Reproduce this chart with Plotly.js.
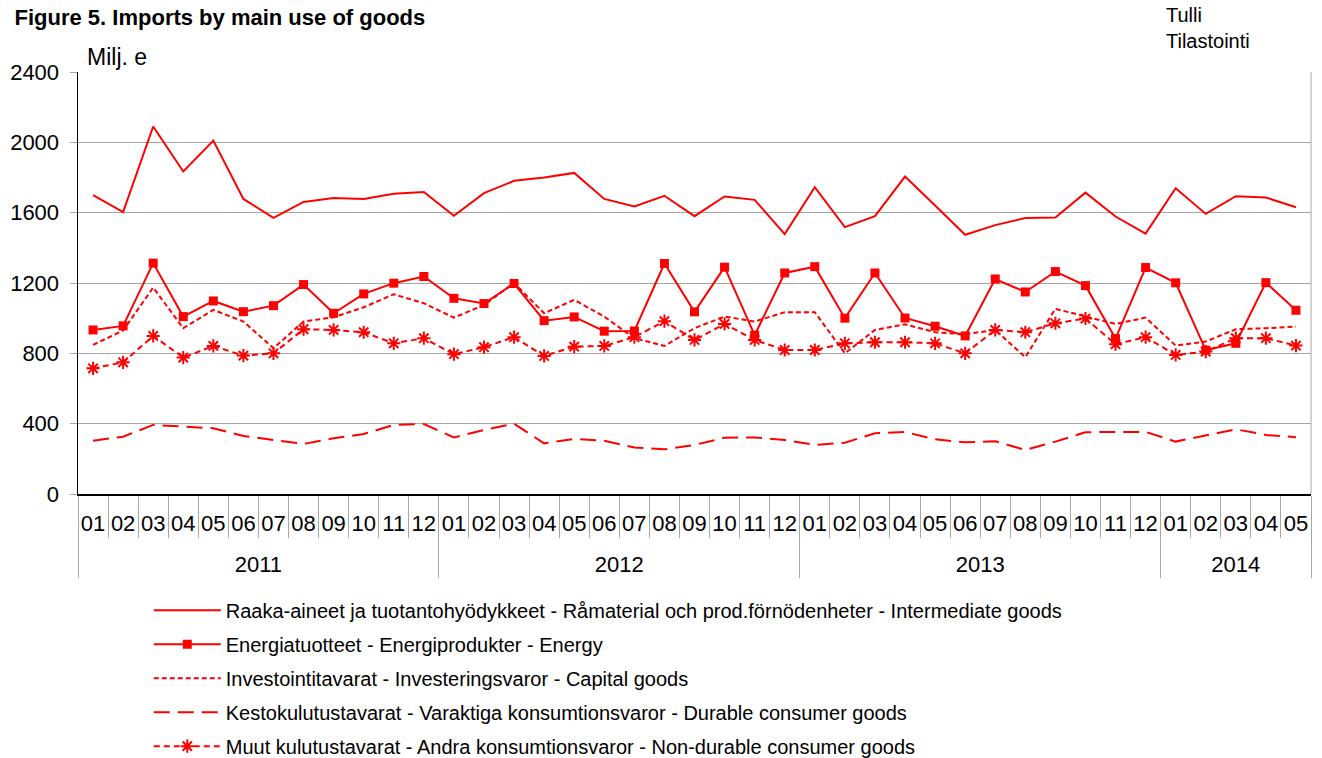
<!DOCTYPE html>
<html>
<head>
<meta charset="utf-8">
<script src="https://cdn.plot.ly/plotly-3.0.1.min.js"></script>
<style>
  html, body { margin: 0; padding: 0; background: #ffffff; }
  #chart { width: 1322px; height: 758px; }
</style>
</head>
<body>
<div id="chart"></div>
<script>
const years = ['2011','2011','2011','2011','2011','2011','2011','2011','2011','2011','2011','2011',
               '2012','2012','2012','2012','2012','2012','2012','2012','2012','2012','2012','2012',
               '2013','2013','2013','2013','2013','2013','2013','2013','2013','2013','2013','2013',
               '2014','2014','2014','2014','2014'];
const months = ['01','02','03','04','05','06','07','08','09','10','11','12',
                '01','02','03','04','05','06','07','08','09','10','11','12',
                '01','02','03','04','05','06','07','08','09','10','11','12',
                '01','02','03','04','05'];

const intermediate = [1700,1603,2090,1834,2010,1678,1570,1661,1684,1678,1707,1717,
                      1582,1711,1781,1800,1826,1678,1635,1696,1580,1692,1673,1478,
                      1745,1518,1580,1805,1641,1474,1529,1569,1572,1714,1578,1481,
                      1739,1593,1694,1686,1631];
const energy = [933,956,1313,1009,1098,1037,1071,1191,1028,1138,1199,1237,
                1113,1083,1197,986,1007,926,927,1311,1036,1290,903,1257,
                1293,1000,1257,1001,954,899,1223,1149,1265,1185,884,1288,
                1201,818,857,1202,1045];
const capital = [848,930,1174,943,1047,981,829,981,1005,1062,1136,1085,
                 1003,1075,1200,1028,1104,1009,886,842,943,1009,981,1034,
                 1034,800,933,965,920,909,933,778,1053,1009,967,1003,
                 844,867,937,943,952];
const durable = [303,326,393,383,374,330,307,285,317,341,393,398,
                 322,364,400,288,313,303,264,254,279,320,322,307,
                 279,292,345,353,311,294,300,250,298,351,353,353,
                 298,332,368,336,323];
const nondurable = [715,749,899,776,842,787,800,937,933,920,857,886,
                    795,835,892,785,838,842,892,983,876,967,876,819,
                    819,857,863,863,857,800,933,920,971,998,852,892,
                    791,810,886,886,844];

const names = [
  'Raaka-aineet ja tuotantohyödykkeet - Råmaterial och prod.förnödenheter - Intermediate goods',
  'Energiatuotteet - Energiprodukter - Energy',
  'Investointitavarat - Investeringsvaror - Capital goods',
  'Kestokulutustavarat - Varaktiga konsumtionsvaror - Durable consumer goods',
  'Muut kulutustavarat - Andra konsumtionsvaror - Non-durable consumer goods'
];

const RED = '#ff0000';
const GRID = '#a6a6a6';
const FONT = 'Arial, "Liberation Sans", sans-serif';
// an invisible second line under each month label leaves room between the month row and the year row
const monthLabels = months.map(m => m + '<br><span style="font-size:1px">&nbsp;</span>');
const xcat = [years, monthLabels];
const nCat = months.length;

const traces = [
  {x: xcat, y: intermediate, name: names[0], legendgroup: 'a', mode: 'lines',
   line: {color: RED, width: 2}},
  {x: xcat, y: energy, name: names[1], legendgroup: 'b', mode: 'lines+markers',
   line: {color: RED, width: 2}, marker: {symbol: 'square', size: 9, color: RED}},
  {x: xcat, y: capital, name: names[2], legendgroup: 'c', mode: 'lines',
   line: {color: RED, width: 2, dash: '5px,3px'}},
  {x: xcat, y: durable, name: names[3], legendgroup: 'd', mode: 'lines',
   line: {color: RED, width: 2, dash: '16px,8px'}},
  {x: xcat, y: nondurable, name: names[4], legendgroup: 'e', mode: 'lines+markers',
   line: {color: RED, width: 2, dash: '6px,4px'},
   marker: {symbol: 'asterisk-open', size: 11, color: RED, line: {color: RED, width: 2}}}
];

const layout = {
  width: 1322, height: 758,
  paper_bgcolor: '#ffffff', plot_bgcolor: '#ffffff',
  font: {family: FONT, color: '#000000', size: 18},
  margin: {l: 78, r: 11, t: 72, b: 264, autoexpand: false},
  showlegend: true,
  title: {text: '<b>Figure 5. Imports by main use of goods</b>', xref: 'container', yref: 'container',
          x: 0.011, xanchor: 'left', y: 0.977, yanchor: 'middle', font: {size: 22, family: FONT}},
  xaxis: {
    type: 'multicategory', automargin: false,
    range: [-0.5, nCat - 0.5],
    showgrid: false, zeroline: false,
    showline: true, linecolor: '#000000', linewidth: 1.5,
    ticks: 'outside', tickson: 'boundaries', ticklen: 42, tickcolor: GRID, tickwidth: 1,
    ticklabelstandoff: 9, tickangle: 0,
    tickfont: {size: 22, family: FONT, color: '#000000'},
    showdividers: true, dividercolor: GRID, dividerwidth: 1
  },
  yaxis: {
    automargin: false,
    range: [0, 2400], dtick: 400, tick0: 0,
    showgrid: true, gridcolor: GRID, gridwidth: 1,
    zeroline: false,
    showline: true, linecolor: '#000000', linewidth: 1.5,
    ticks: 'outside', ticklen: 7, tickcolor: GRID,
    ticklabelstandoff: 6,
    tickfont: {size: 22, family: FONT, color: '#000000'}
  },
  legend: {
    orientation: 'v', x: 0.0574, xanchor: 'left', y: -0.229, yanchor: 'top',
    traceorder: 'grouped', tracegroupgap: 5, itemwidth: 67,
    font: {size: 20, family: FONT, color: '#000000'},
    bgcolor: 'rgba(0,0,0,0)'
  },
  shapes: [
    {type: 'line', xref: 'paper', yref: 'paper', x0: 1, x1: 1, y0: 0, y1: 1,
     line: {color: GRID, width: 1}}
  ],
  annotations: [
    {text: 'Milj. e', xref: 'paper', yref: 'paper', x: 0.006, y: 1.0, xanchor: 'left', yanchor: 'bottom',
     showarrow: false, font: {size: 23, family: FONT}},
    {text: 'Tulli<br>Tilastointi', xref: 'paper', yref: 'paper', x: 0.881, y: 1.165, xanchor: 'left', yanchor: 'top',
     align: 'left', showarrow: false, font: {size: 20, family: FONT}}
  ]
};

Plotly.newPlot('chart', traces, layout, {displayModeBar: false, staticPlot: true});
</script>
</body>
</html>
